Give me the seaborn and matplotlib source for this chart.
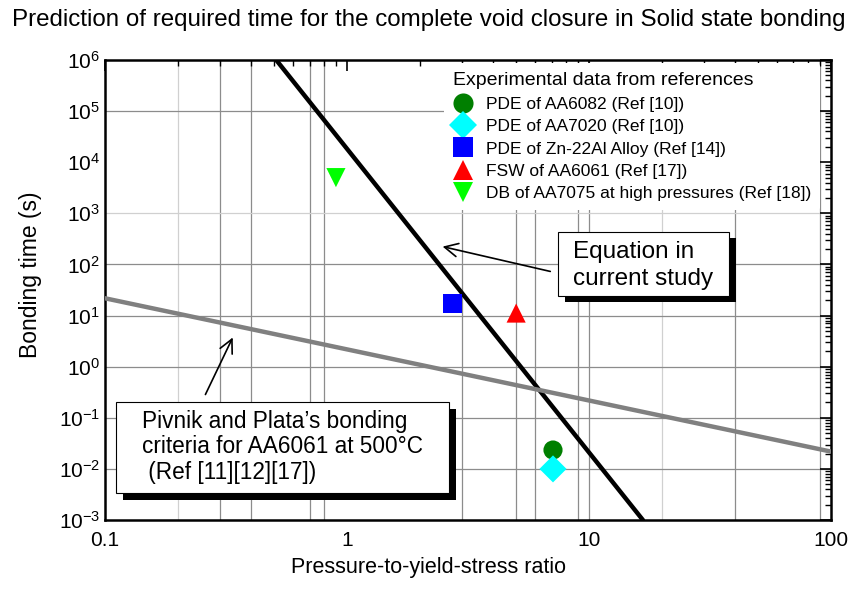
import matplotlib
matplotlib.use('Agg')
import matplotlib.pyplot as plt
import seaborn as sns
import pandas as pd
from matplotlib.patches import Rectangle
from matplotlib.ticker import NullFormatter

# experimental points
labels = ['PDE of AA6082 (Ref [10])', 'PDE of AA7020 (Ref [10])', 'PDE of Zn-22Al Alloy (Ref [14])',
          'FSW of AA6061 (Ref [17])', 'DB of AA7075 at high pressures (Ref [18])']
ratio = [7.1, 7.1, 2.72, 5.0, 0.90]
time_s = [0.0234, 0.0100, 16.9, 11.2, 5000]
colors = ['#007f00', '#00ffff', '#0000ff', '#ff0000', '#00ff00']
marks = ['o', 'D', 's', '^', 'v']

# equation in current study (black) and Pivnik & Plata criteria (gray)
eq_x = [0.51, 16.7]
eq_y = [1e6, 1e-3]
piv_x = [0.1, 100]
piv_y = [21.8, 0.0218]

sns.set_style('white')
plt.rcParams['font.family'] = ['Liberation Sans', 'DejaVu Sans']
plt.rcParams['mathtext.fontset'] = 'custom'
plt.rcParams['mathtext.rm'] = 'Liberation Sans'
for key in ['text.color', 'axes.labelcolor', 'xtick.color', 'ytick.color']:
    plt.rcParams[key] = 'black'

fig = plt.figure(figsize=(8.58, 5.96), dpi=100)
ax = fig.add_axes([0.1224, 0.1275, 0.8461, 0.7718])
ax.set_xscale('log')
ax.set_yscale('log')
ax.set_xlim(0.1, 100)
ax.set_ylim(1e-3, 1e6)

# irregular grid like the original
for gx in [0.3, 0.4, 0.7, 0.8, 3, 5, 6, 9, 10, 40, 90]:
    ax.axvline(gx, color='#8c8c8c', lw=0.9, zorder=0)
for gx in [0.2, 20]:
    ax.axvline(gx, color='#d0d0d0', lw=0.9, zorder=0)
for gy in [1e5, 1e2, 1e1, 1e0, 1e-1, 1e-2]:
    ax.axhline(gy, color='#8c8c8c', lw=0.9, zorder=0)
ax.axhline(1e3, color='#d0d0d0', lw=0.9, zorder=0)

sns.lineplot(x=eq_x, y=eq_y, ax=ax, color='black', lw=3.2, zorder=3)
sns.lineplot(x=piv_x, y=piv_y, ax=ax, color='#808080', lw=3.2, zorder=3)

df = pd.DataFrame({'label': labels, 'ratio': ratio, 'time': time_s})
sns.scatterplot(data=df, x='ratio', y='time', hue='label', style='label',
                palette=dict(zip(labels, colors)), markers=dict(zip(labels, marks)),
                s=190, edgecolor='none', ax=ax, zorder=5)

leg = ax.legend(title='Experimental data from references', loc='upper right',
                bbox_to_anchor=(0.989, 1.0), fontsize=12.5, title_fontsize=14,
                frameon=True, facecolor='white', edgecolor='none', framealpha=1,
                borderaxespad=0.2, handletextpad=0.7, labelspacing=0.42, markerscale=1.05,
                handlelength=1.2, borderpad=0.5)
leg._legend_box.align = 'left'

# text boxes with drop shadow
def shadow_box(x0, y0, w, h, dx, dy):
    ax.add_patch(Rectangle((x0 + dx, y0 - dy), w, h, transform=ax.transAxes,
                           facecolor='black', edgecolor='none', zorder=6))
    ax.add_patch(Rectangle((x0, y0), w, h, transform=ax.transAxes,
                           facecolor='white', edgecolor='black', lw=0.8, zorder=7))

shadow_box(0.624, 0.487, 0.2355, 0.139, 0.010, 0.013)
ax.text(0.645, 0.554, 'Equation in\ncurrent study', transform=ax.transAxes,
        fontsize=17.5, va='center', ha='left', linespacing=1.3, zorder=8)

shadow_box(0.0152, 0.0587, 0.4587, 0.198, 0.0096, 0.0152)
ax.text(0.0505, 0.159, 'Pivnik and Plata\u2019s bonding\ncriteria for AA6061 at 500\u00b0C\n (Ref [11][12][17])',
        transform=ax.transAxes, fontsize=16.3, va='center', ha='left', linespacing=1.15, zorder=8)

ax.annotate('', xy=(2.42, 230), xytext=(7.1, 71),
            arrowprops=dict(arrowstyle='->', color='black', lw=1.2, mutation_scale=24), zorder=8)
ax.annotate('', xy=(0.341, 4.17), xytext=(0.257, 0.255),
            arrowprops=dict(arrowstyle='->', color='black', lw=1.2, mutation_scale=24), zorder=8)

ax.set_xticks([0.1, 1, 10, 100], labels=['0.1', '1', '10', '100'])
ax.set_yticks([10.0 ** e for e in range(-3, 7)])
ax.set_yticks([m * 10.0 ** e for e in range(-3, 6) for m in range(2, 10)], minor=True)
ax.yaxis.set_minor_formatter(NullFormatter())
ax.tick_params(which='both', direction='in', top=True, right=True, labelsize=15)
ax.tick_params(which='major', length=8, width=1.2)
ax.tick_params(which='minor', length=4, width=1.0)
ax.tick_params(axis='x', which='major', pad=8)
for sp in ax.spines.values():
    sp.set_linewidth(1.8)
    sp.set_color('black')

ax.set_xlabel('Pressure-to-yield-stress ratio', fontsize=15.5)
ax.xaxis.set_label_coords(0.445, -0.08)
ax.set_ylabel('Bonding time (s)', fontsize=16.5)
ax.yaxis.set_label_coords(-0.087, 0.533)
fig.suptitle('Prediction of required time for the complete void closure in Solid state bonding',
             fontsize=17.4, y=0.985)

plt.savefig('out.png', dpi=100)
